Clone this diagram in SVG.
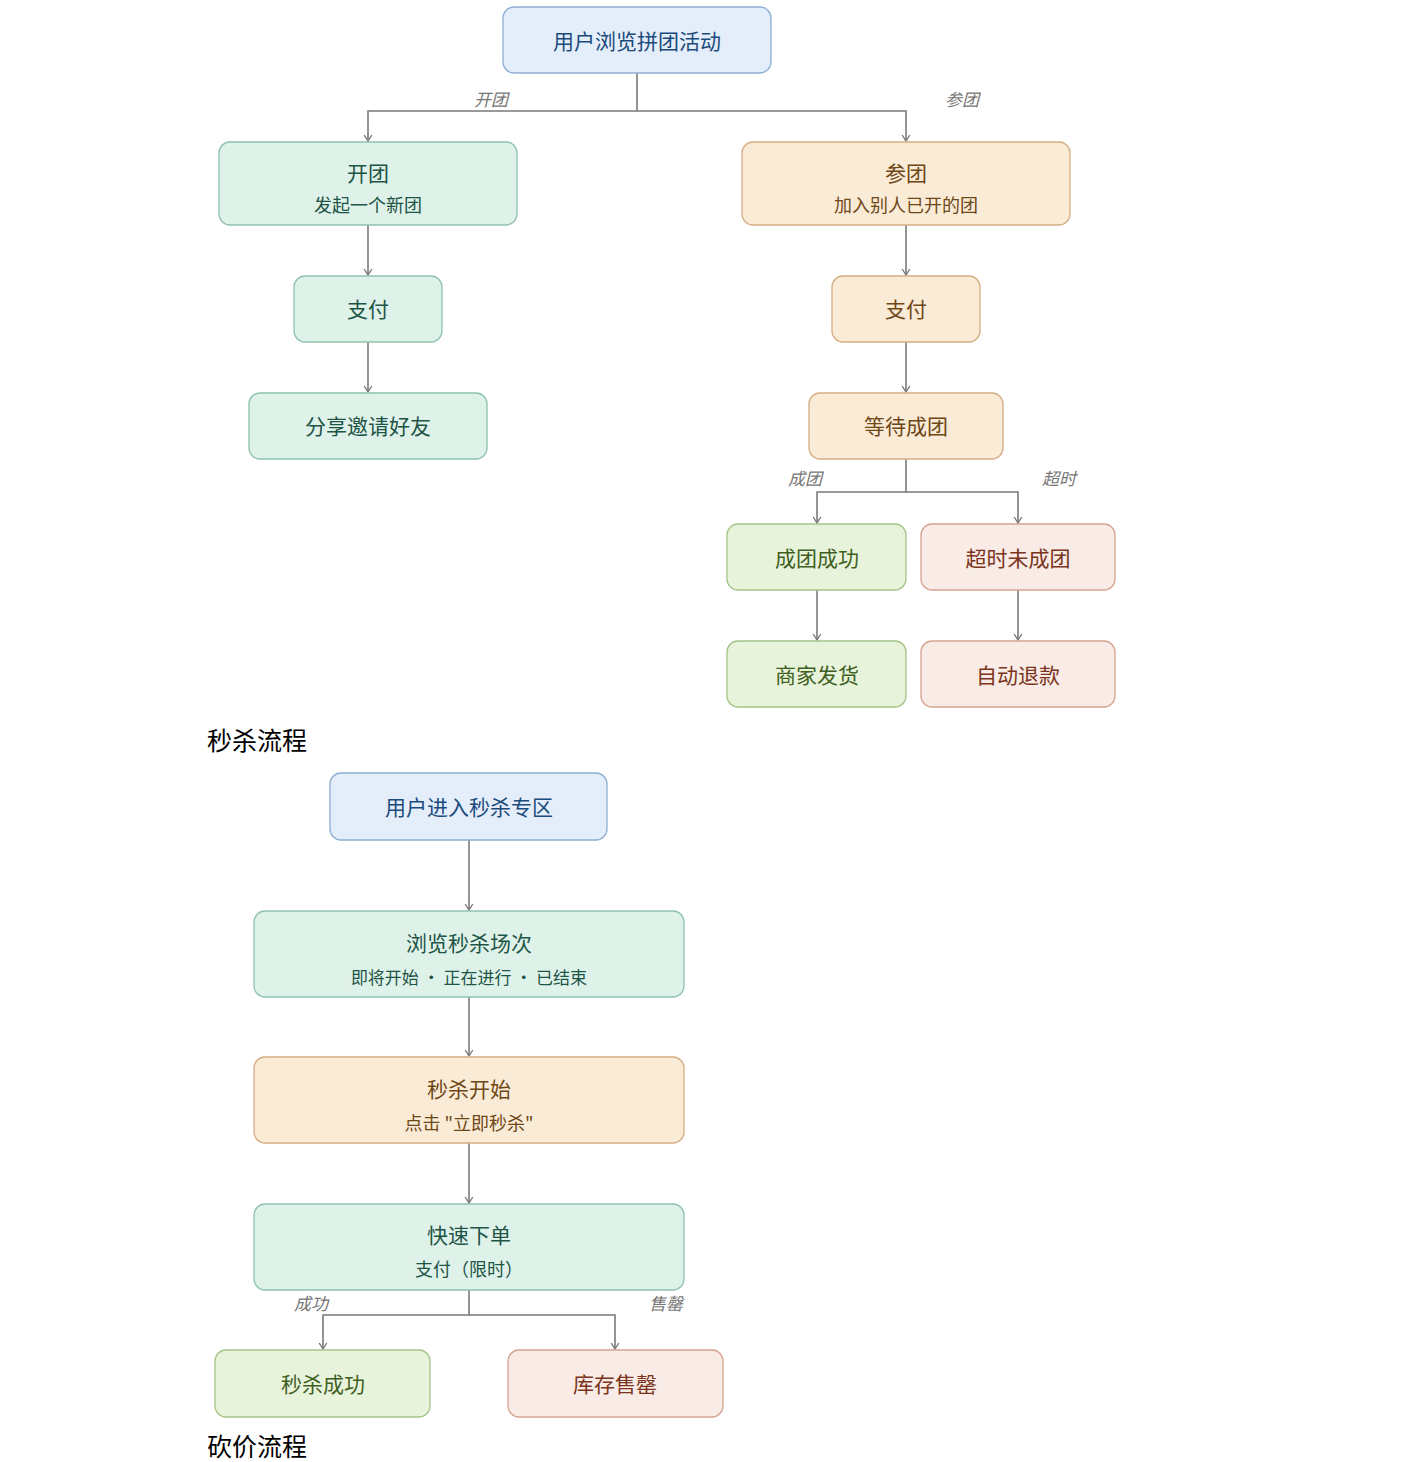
<svg xmlns="http://www.w3.org/2000/svg" width="1411" height="1462" viewBox="0 0 1411 1462">
<style>
text{font-family:"Microsoft YaHei","Noto Sans CJK SC","Noto Sans",sans-serif;text-anchor:middle}
.t{font-size:21px}
.s{font-size:18px}
.lbl{font-size:17px;fill:#777;font-style:italic}
.h{font-size:25px;fill:#000;text-anchor:start}
.blue rect{fill:#e4eefa;stroke:#8eaed2;stroke-width:1.3}
.blue text{fill:#1b4a7c}
.green rect{fill:#dff2ea;stroke:#8fc2ad;stroke-width:1.3}
.green text{fill:#1e5446}
.orange rect{fill:#faebd6;stroke:#d5ae84;stroke-width:1.3}
.orange text{fill:#6e4716}
.lime rect{fill:#e8f3dc;stroke:#a4c488;stroke-width:1.3}
.lime text{fill:#3f5f1e}
.red rect{fill:#f9ebe5;stroke:#d7a291;stroke-width:1.3}
.red text{fill:#7a3420}
.c path{fill:none;stroke:#7a7a7a;stroke-width:1.6}
</style>
<defs>
<marker id="a" markerWidth="10" markerHeight="10" refX="9" refY="5" orient="auto" markerUnits="userSpaceOnUse" viewBox="0 0 10 10">
<path d="M3,1.2 L9,5 L3,8.8" fill="none" stroke="#7a7a7a" stroke-width="1.4"/>
</marker>
</defs>
<rect width="1411" height="1462" fill="#fff"/>

<g class="c" id="connectors">
<path d="M637,73 V111 H368 V141" marker-end="url(#a)"/>
<path d="M637,111 H906 V141" marker-end="url(#a)"/>
<path d="M368,225 V275" marker-end="url(#a)"/>
<path d="M368,342 V392" marker-end="url(#a)"/>
<path d="M906,225 V275" marker-end="url(#a)"/>
<path d="M906,342 V392" marker-end="url(#a)"/>
<path d="M906,459 V492 H817 V523" marker-end="url(#a)"/>
<path d="M906,492 H1018 V523" marker-end="url(#a)"/>
<path d="M817,590 V640" marker-end="url(#a)"/>
<path d="M1018,590 V640" marker-end="url(#a)"/>
<path d="M469,840 V910" marker-end="url(#a)"/>
<path d="M469,997 V1056" marker-end="url(#a)"/>
<path d="M469,1143 V1203" marker-end="url(#a)"/>
<path d="M469,1290 V1315 H323 V1349" marker-end="url(#a)"/>
<path d="M469,1315 H615 V1349" marker-end="url(#a)"/>
</g>
<g id="edge-labels">
<text class="lbl" x="491" y="106">开团</text>
<text class="lbl" x="962" y="106">参团</text>
<text class="lbl" x="805" y="485">成团</text>
<text class="lbl" x="1059" y="485">超时</text>
<text class="lbl" x="311" y="1310">成功</text>
<text class="lbl" x="666" y="1310">售罄</text>
</g>

<g id="n-browse" class="blue"><rect x="503" y="7" width="268" height="66" rx="11"/><text class="t" x="637" y="49">用户浏览拼团活动</text></g>
<g id="n-open" class="green"><rect x="219" y="142" width="298" height="83" rx="11"/><text class="t" x="368" y="181">开团</text><text class="s" x="368" y="212">发起一个新团</text></g>
<g id="n-pay1" class="green"><rect x="294" y="276" width="148" height="66" rx="11"/><text class="t" x="368" y="317">支付</text></g>
<g id="n-share" class="green"><rect x="249" y="393" width="238" height="66" rx="11"/><text class="t" x="368" y="434">分享邀请好友</text></g>
<g id="n-join" class="orange"><rect x="742" y="142" width="328" height="83" rx="11"/><text class="t" x="906" y="181">参团</text><text class="s" x="906" y="212">加入别人已开的团</text></g>
<g id="n-pay2" class="orange"><rect x="832" y="276" width="148" height="66" rx="11"/><text class="t" x="906" y="317">支付</text></g>
<g id="n-wait" class="orange"><rect x="809" y="393" width="194" height="66" rx="11"/><text class="t" x="906" y="434">等待成团</text></g>
<g id="n-succ" class="lime"><rect x="727" y="524" width="179" height="66" rx="11"/><text class="t" x="817" y="566">成团成功</text></g>
<g id="n-timeout" class="red"><rect x="921" y="524" width="194" height="66" rx="11"/><text class="t" x="1018" y="566">超时未成团</text></g>
<g id="n-ship" class="lime"><rect x="727" y="641" width="179" height="66" rx="11"/><text class="t" x="817" y="683">商家发货</text></g>
<g id="n-refund" class="red"><rect x="921" y="641" width="194" height="66" rx="11"/><text class="t" x="1018" y="683">自动退款</text></g>

<text class="h" x="207" y="750">秒杀流程</text>

<g id="n-enter" class="blue"><rect x="330" y="773" width="277" height="67" rx="11"/><text class="t" x="469" y="815">用户进入秒杀专区</text></g>
<g id="n-sessions" class="green"><rect x="254" y="911" width="430" height="86" rx="11"/><text class="t" x="469" y="951">浏览秒杀场次</text><text class="s" x="469" y="984" style="font-size:17px">即将开始 · 正在进行 · 已结束</text></g>
<g id="n-start" class="orange"><rect x="254" y="1057" width="430" height="86" rx="11"/><text class="t" x="469" y="1097">秒杀开始</text><text class="s" x="469" y="1130">点击 "立即秒杀"</text></g>
<g id="n-order" class="green"><rect x="254" y="1204" width="430" height="86" rx="11"/><text class="t" x="469" y="1243">快速下单</text><text class="s" x="469" y="1276">支付（限时）</text></g>
<g id="n-ok" class="lime"><rect x="215" y="1350" width="215" height="67" rx="11"/><text class="t" x="323" y="1392">秒杀成功</text></g>
<g id="n-soldout" class="red"><rect x="508" y="1350" width="215" height="67" rx="11"/><text class="t" x="615" y="1392">库存售罄</text></g>

<text class="h" x="207" y="1456">砍价流程</text>
</svg>
